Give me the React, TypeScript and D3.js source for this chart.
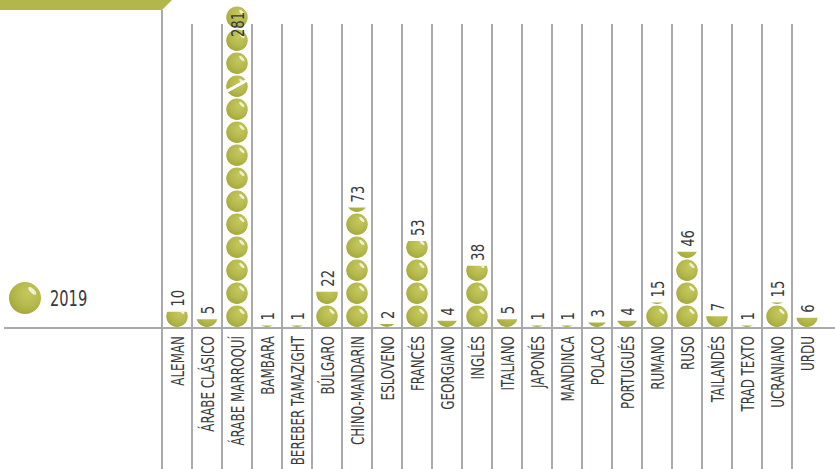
import React from "react";
import * as d3 from "d3";

const categories = [
  "ALEMAN", "ÁRABE CLÁSICO", "ÁRABE MARROQUÍ", "BAMBARA", "BEREBER TAMAZIGHT",
  "BÚLGARO", "CHINO-MANDARIN", "ESLOVENO", "FRANCÉS", "GEORGIANO", "INGLÉS",
  "ITALIANO", "JAPONÉS", "MANDINCA", "POLACO", "PORTUGUÉS", "RUMANO", "RUSO",
  "TAILANDÉS", "TRAD TEXTO", "UCRANIANO", "URDU",
];
const values2019 = [10, 5, 281, 1, 1, 22, 73, 2, 53, 4, 38, 5, 1, 1, 3, 4, 15, 46, 7, 1, 15, 6];
const seriesName = "2019";
const unitPerCircle = 14;
const maxShapes = 14;

const W = 835;
const H = 469;
const FONT = "'Liberation Sans Narrow', 'DejaVu Sans Condensed', 'Roboto', sans-serif";
const GRID = "#a8aaad";
const TEXT = "#3a3a3a";

function Ball({ cx, cy, r, clipId, broken }: { cx: number; cy: number; r: number; clipId?: string; broken?: boolean }) {
  return (
    <g clipPath={clipId ? `url(#${clipId})` : undefined}>
      <circle cx={cx} cy={cy} r={r} fill="url(#ballGrad)" />
      <ellipse
        cx={cx + r * 0.45}
        cy={cy - r * 0.45}
        rx={r * 0.32}
        ry={r * 0.13}
        fill="#ffffff"
        opacity={0.75}
        transform={`rotate(45 ${cx + r * 0.45} ${cy - r * 0.45})`}
      />
      {broken && (
        <line x1={cx - r - 1} y1={cy + r * 0.55} x2={cx + r + 1} y2={cy - r * 0.65} stroke="#ffffff" strokeWidth={3} />
      )}
    </g>
  );
}

export default function App() {
  const x = d3.scaleBand<string>().domain(categories).range([162, 822]).padding(0);
  const baseY = 328;
  const r = 10.75;
  const pitch = 23;
  // value (in units of one circle) -> height in pixels
  const frac = d3.scaleLinear().domain([0, unitPerCircle]).range([0, 2 * r]);

  const cols = categories.map((c, i) => {
    const v = values2019[i];
    const cx = (x(c) as number) + x.bandwidth() / 2;
    const full = Math.floor(v / unitPerCircle);
    const rem = v - full * unitPerCircle;
    const shapes: { cy: number; cut?: number; broken?: boolean }[] = [];
    const totalNeeded = full + (rem > 0 ? 1 : 0);
    if (totalNeeded > maxShapes) {
      for (let k = 0; k < maxShapes; k++) {
        const cy = baseY - 1 - r - k * pitch;
        shapes.push({ cy, broken: k === maxShapes - 4 });
      }
    } else {
      for (let k = 0; k < full; k++) shapes.push({ cy: baseY - 1 - r - k * pitch });
      if (rem > 0) {
        const cy = baseY - 1 - r - full * pitch;
        const bottom = cy + r;
        shapes.push({ cy, cut: bottom - Math.max(frac(rem), 1.5) });
      }
    }
    const last = shapes[shapes.length - 1];
    const top = last.cut !== undefined ? last.cut : last.cy - r;
    const labelY = Math.max(top - 5, 37);
    return { c, v, cx, shapes, labelY, i };
  });

  return (
    <svg width={W} height={H} style={{ position: "absolute", left: 0, top: 0, background: "#fff" }} fontFamily={FONT}>
      <defs>
        <radialGradient id="ballGrad" cx="0.6" cy="0.35" r="0.75">
          <stop offset="0" stopColor="#c5c85e" />
          <stop offset="0.55" stopColor="#b5b84b" />
          <stop offset="0.85" stopColor="#a7ab3e" />
          <stop offset="1" stopColor="#969b33" />
        </radialGradient>
        {cols.map((col) =>
          col.shapes.map((s, k) =>
            s.cut !== undefined ? (
              <clipPath id={`clip-${col.i}-${k}`} key={`cp-${col.i}-${k}`}>
                <rect x={col.cx - r - 2} y={s.cut} width={2 * r + 4} height={s.cy + r - s.cut + 2} />
              </clipPath>
            ) : null
          )
        )}
      </defs>

      {/* top banner */}
      <polygon points="0,0 172,0 162,10 0,10" fill="#b3b64a" />

      {/* vertical grid lines */}
      {categories.map((c, i) => (
        <line
          key={`g-${c}`}
          x1={x(c) as number}
          x2={x(c) as number}
          y1={i === 0 ? 10 : 24}
          y2={H}
          stroke={GRID}
          strokeWidth={2}
        />
      ))}

      {/* baseline */}
      <line x1={4} x2={W} y1={baseY} y2={baseY} stroke={GRID} strokeWidth={2} />

      {/* balls */}
      {cols.map((col) =>
        col.shapes.map((s, k) => (
          <Ball
            key={`b-${col.i}-${k}`}
            cx={col.cx}
            cy={s.cy}
            r={r}
            broken={s.broken}
            clipId={s.cut !== undefined ? `clip-${col.i}-${k}` : undefined}
          />
        ))
      )}

      {/* value labels */}
      {cols.map((col) => (
        <text
          key={`v-${col.c}`}
          transform={`translate(${col.cx + 1},${col.labelY}) rotate(-90) scale(0.86,1)`}
          textAnchor="start"
          dy="0.36em"
          fontSize={17}
          fill={TEXT}
        >
          {col.v}
        </text>
      ))}

      {/* category labels */}
      {categories.map((c) => (
        <text
          key={`c-${c}`}
          transform={`translate(${(x(c) as number) + x.bandwidth() / 2 + 1},${336}) rotate(-90) scale(0.78,1)`}
          textAnchor="end"
          dy="0.36em"
          fontSize={17}
          fill={TEXT}
        >
          {c}
        </text>
      ))}

      {/* legend */}
      <Ball cx={25} cy={298} r={16} />
      <text x={0} y={0} transform="translate(50,298) scale(0.74,1)" dy="0.36em" fontSize={22} fill={TEXT}>
        {seriesName}
      </text>
    </svg>
  );
}
